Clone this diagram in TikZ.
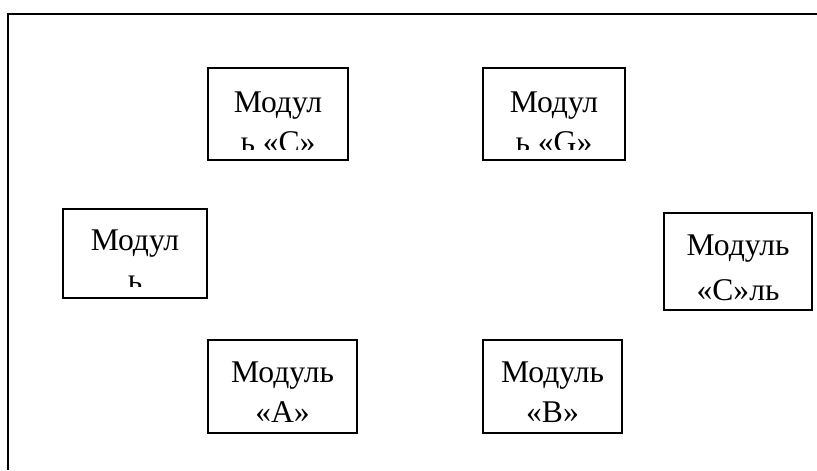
\documentclass[tikz,border=0pt]{standalone}
\usepackage{fontspec}
\setmainfont{Liberation Serif}
\usepackage{tikz}
\usetikzlibrary{positioning}

\begin{document}
\begin{tikzpicture}[x=0.5pt, y=-0.5pt,
		modbox/.style={draw, line width=1pt, inner sep=0pt},
		modtxt/.style={font=\fontsize{15.8}{20}\selectfont, align=center, anchor=base, inner sep=0pt},
		wide/.style={font=\fontsize{15.8}{22.5}\selectfont}]
	\useasboundingbox (0,0) rectangle (817,470);
	\draw[line width=1.2pt] (8,470) |- (817,14);
	
	\node[modbox, minimum width=70pt, minimum height=46pt] (C) at (278,114) {};
	\node[modbox, minimum width=71pt, minimum height=46pt] (G) at (554,114) {};
	\node[modbox, minimum width=72pt, minimum height=44.5pt] (L) at (135,253.5) {};
	\node[modbox, minimum width=74pt, minimum height=48.5pt] (R) at (738,261.5) {};
	\node[modbox, minimum width=74.5pt, minimum height=46.5pt] (A) at (282.5,386.5) {};
	\node[modbox, minimum width=69.5pt, minimum height=46.5pt] (B) at (552.5,386.5) {};
	
	% text that runs past the box is cut off
	\begin{scope}
		\clip (C.north west) rectangle (348,150);
		\node[modtxt] (tC) at (278,153) {Модул\\ь «C»};
	\end{scope}
	\begin{scope}
		\clip (G.north west) rectangle (625,150);
		\node[modtxt] (tG) at (554,153) {Модул\\ь «G»};
	\end{scope}
	\begin{scope}
		\clip (L.north west) rectangle (207,286);
		\node[modtxt] (tL) at (135,290) {Модул\\ь};
	\end{scope}
	\node[modtxt, wide] (tR) at (738,300) {Модуль\\«С»ль};
	\node[modtxt] (tA) at (282.5,422) {Модуль\\«А»};
	\node[modtxt] (tB) at (552.5,422) {Модуль\\«В»};
\end{tikzpicture}
\end{document}
